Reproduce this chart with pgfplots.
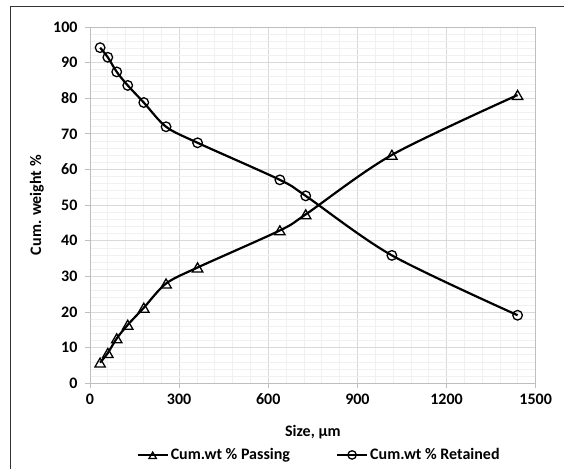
\documentclass[border=0pt]{standalone}
\usepackage{fontspec}
\setmainfont{Carlito}
\usepackage{pgfplots}
\pgfplotsset{compat=1.18}
\begin{document}
\begin{tikzpicture}[x=1pt,y=1pt]
\useasboundingbox (0,0) rectangle (564,469);
\draw[black!80, line width=1pt] (10,0) -- (10,462) -- (564,462);
\begin{axis}[
  at={(90pt,85.7pt)}, anchor=south west,
  scale only axis, width=445.7pt, height=356.3pt,
  xmin=0, xmax=1500, ymin=0, ymax=100,
  xtick={0,300,...,1500}, ytick={0,10,...,100},
  minor x tick num=4, minor y tick num=4,
  grid=both,
  major grid style={draw=black!15, line width=0.8pt},
  minor grid style={draw=black!6, line width=0.8pt},
  axis line style={draw=black!25, line width=0.8pt},
  tick style={draw=black!25, line width=0.8pt},
  major tick length=5pt, minor tick length=0pt,
  tick align=outside,
  xtick pos=bottom, ytick pos=left,
  xticklabel shift=2pt, yticklabel shift=4pt,
  /pgf/number format/assume math mode=true,
  /pgf/number format/1000 sep={},
  tick label style={font=\fontsize{16}{18}\selectfont\bfseries},
  label style={font=\fontsize{16}{18}\selectfont\bfseries},
  xlabel={Size, µm}, ylabel={Cum. weight \%},
  xlabel style={at={(axis description cs:0.5,-0.136)}, anchor=center},
  ylabel style={at={(axis description cs:-0.119,0.5)}, anchor=center},
  legend columns=2,
  legend style={at={(axis description cs:0.514,-0.201)}, anchor=center, draw=none, fill=none,
    font=\fontsize{16}{18}\selectfont\bfseries, inner sep=0pt,
    /tikz/every even column/.append style={column sep=44pt}},
  legend image code/.code={\draw[#1, mark repeat=2, mark phase=2, mark size=4.2pt] plot coordinates {(0pt,0pt)(15pt,0pt)(30pt,0pt)};},
]
\addplot[black, line width=2.2pt, smooth, tension=0.5, mark=triangle, mark size=6pt,
  mark options={fill=white, line width=1.3pt, solid, yshift=-1.4pt}]
  coordinates {(34,5.8)(60,8.5)(90,12.6)(127,16.4)(181,21.2)(256,28.0)(362,32.5)(639,42.9)(726,47.4)(1016,64.1)(1439,80.9)};
\addlegendentry{Cum.wt \% Passing}
\addplot[black, line width=2.2pt, smooth, tension=0.5, mark=o, mark size=4.8pt,
  mark options={fill=white, line width=1.3pt, solid}]
  coordinates {(34,94.2)(60,91.5)(90,87.4)(127,83.6)(181,78.8)(256,72.0)(362,67.5)(639,57.1)(726,52.6)(1016,35.9)(1439,19.1)};
\addlegendentry{Cum.wt \% Retained}
\end{axis}
\end{tikzpicture}
\end{document}
